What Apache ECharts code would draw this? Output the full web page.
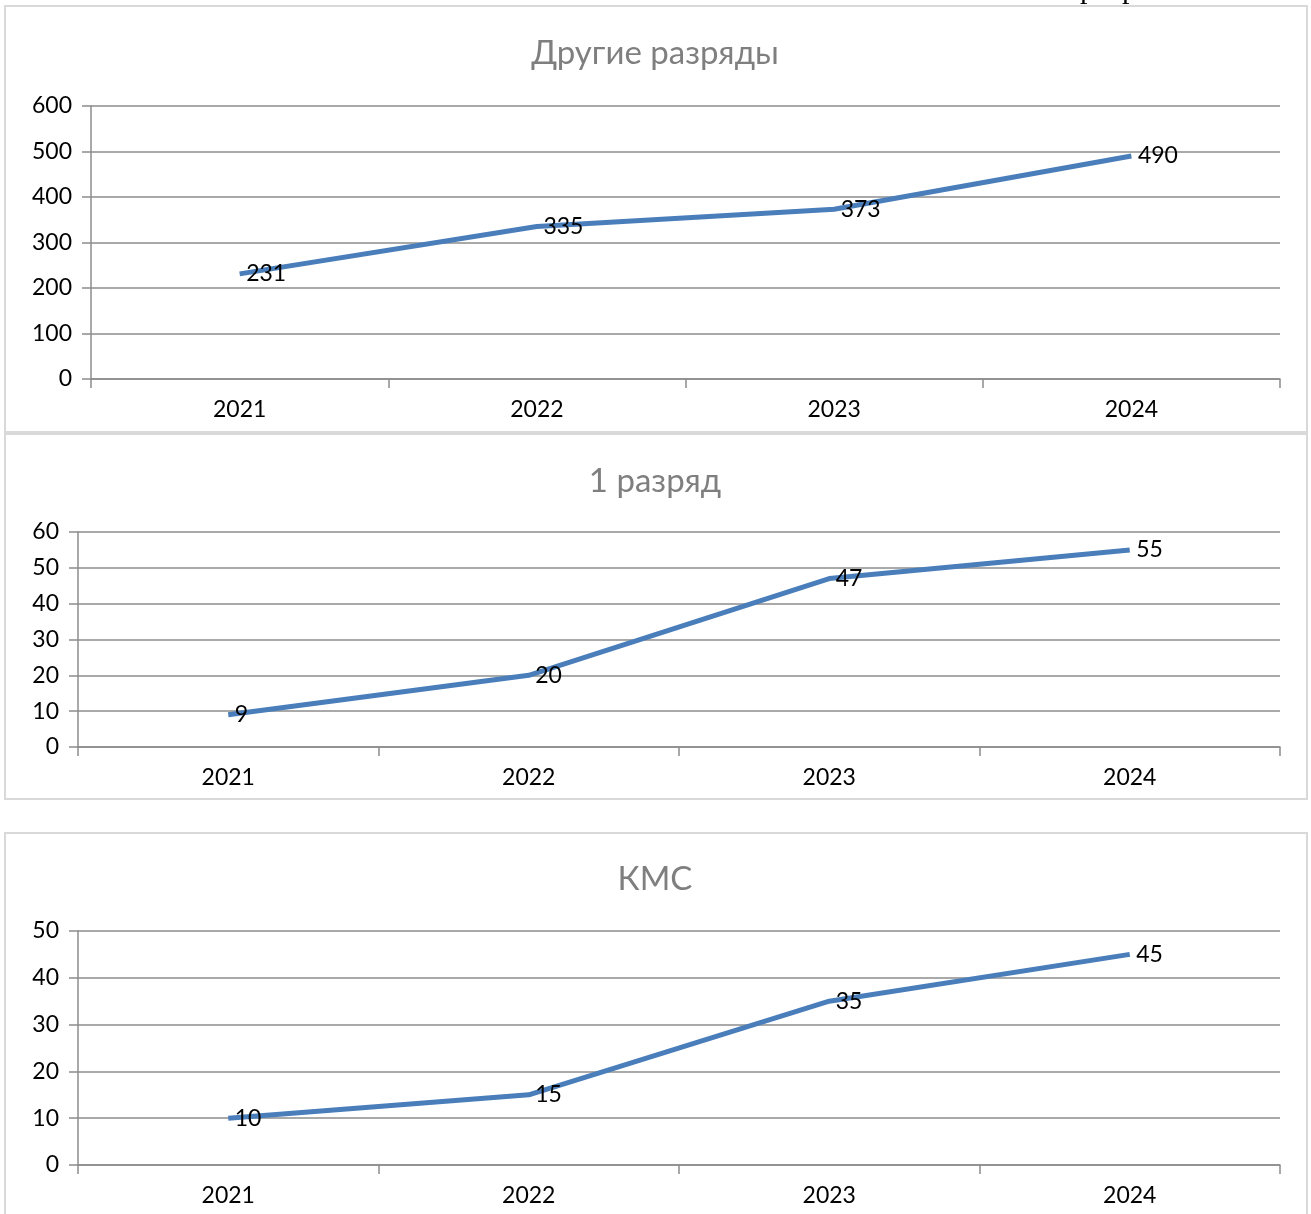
<!DOCTYPE html>
<html><head><meta charset="utf-8">
<script src="https://cdn.jsdelivr.net/npm/echarts@6/dist/echarts.min.js"></script>
<style>html,body{margin:0;padding:0;background:#fff}#c{width:1311px;height:1214px}</style>
</head><body><div id="c"></div>
<script>
const years = ['2021', '2022', '2023', '2024'];
const titles = ['Другие разряды', '1 разряд', 'КМС'];
const otherRanks = [231, 335, 373, 490];
const firstRank = [9, 20, 47, 55];
const kms = [10, 15, 35, 45];
const yMax = [600, 60, 50];
const yStep = [100, 10, 10];

const seriesData = [otherRanks, firstRank, kms];
const grids = [
  {left: 91, right: 31, top: 106, height: 273},
  {left: 78, right: 31, top: 532, height: 215},
  {left: 78, right: 31, top: 931, height: 234}
];
const titleY = [53, 481, 879];
const panels = [[5, 6, 1302, 426], [5, 434, 1302, 365], [5, 833, 1302, 400]];
const FONT = 'Lato, "Open Sans", sans-serif';
const LINE = '#4a7ebb';
const GRIDC = '#8c8c8c';

const chart = echarts.init(document.getElementById('c'), null, {renderer: 'canvas'});
const graphic = [];
panels.forEach(p => graphic.push({type: 'rect', z: -10, shape: {x: p[0], y: p[1], width: p[2], height: p[3]},
  style: {fill: '#fff', stroke: '#d9d9d9', lineWidth: 2}}));
titles.forEach((t, i) => graphic.push({type: 'text', x: 655, y: titleY[i], z: 10,
  style: {text: t, font: '33px ' + FONT, fill: '#7f7f7f', textAlign: 'center', textVerticalAlign: 'middle'}}));
// fragments of document text cut off above the chart
graphic.push({type: 'text', x: 1080, y: -25, z: -20, style: {text: 'р', font: '30px "Liberation Serif", serif', fill: '#000'}});
graphic.push({type: 'text', x: 1122, y: -25, z: -20, style: {text: 'р', font: '30px "Liberation Serif", serif', fill: '#000'}});

const option = {
  animation: false,
  backgroundColor: '#fff',
  graphic: graphic,
  grid: grids,
  xAxis: grids.map((g, i) => ({
    type: 'category', gridIndex: i, data: years, boundaryGap: true,
    axisLine: {show: true, lineStyle: {color: GRIDC, width: 1.5}},
    axisTick: {show: true, alignWithLabel: false, length: 9, lineStyle: {color: GRIDC, width: 1.5}},
    axisLabel: {color: '#000', fontSize: 23, fontFamily: FONT, margin: 19}
  })),
  yAxis: grids.map((g, i) => ({
    type: 'value', gridIndex: i, min: 0, max: yMax[i], interval: yStep[i],
    axisLine: {show: true, lineStyle: {color: GRIDC, width: 1.5}},
    axisTick: {show: true, length: 9, lineStyle: {color: GRIDC, width: 1.5}},
    splitLine: {show: true, lineStyle: {color: GRIDC, width: 1.5}},
    axisLabel: {color: '#000', fontSize: 23, fontFamily: FONT, margin: 19}
  })),
  series: seriesData.map((d, i) => ({
    type: 'line', xAxisIndex: i, yAxisIndex: i, data: d,
    symbol: 'circle', symbolSize: 1, showSymbol: true, smooth: false, z: 5,
    itemStyle: {color: 'rgba(0,0,0,0)'},
    lineStyle: {color: LINE, width: 5, cap: 'butt'},
    label: {show: true, position: 'right', distance: 6, color: '#000', fontSize: 23, fontFamily: FONT},
    emphasis: {disabled: true}
  }))
};
chart.setOption(option);
</script></body></html>
